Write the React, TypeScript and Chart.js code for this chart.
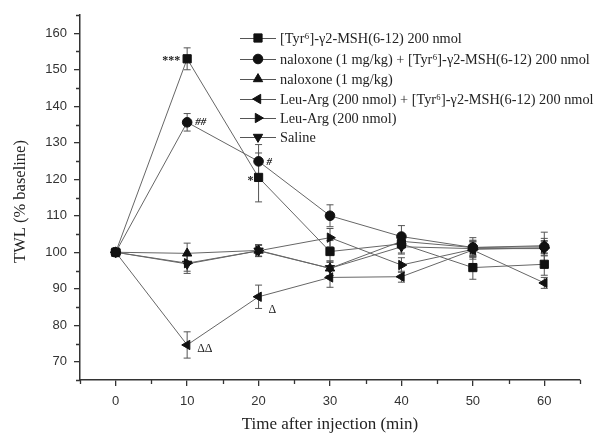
import React, { useEffect, useRef } from "react";
import { Chart, registerables } from "chart.js";
import { drawPoint } from "chart.js/helpers";

Chart.register(...registerables);

const times = [0, 10, 20, 30, 40, 50, 60];
const seriesLabels = [
  "[Tyr\u2076]-\u03b32-MSH(6-12) 200 nmol",
  "naloxone (1 mg/kg) + [Tyr\u2076]-\u03b32-MSH(6-12) 200 nmol",
  "naloxone (1 mg/kg)",
  "Leu-Arg (200 nmol) + [Tyr\u2076]-\u03b32-MSH(6-12) 200 nmol",
  "Leu-Arg (200 nmol)",
  "Saline",
];
const tyrValues = [100, 153, 120.5, 100.2, 102.3, 95.8, 96.7];
const tyrErrors = [0, 3, 6.7, 3, 2.5, 3.2, 3];
const naloxTyrValues = [100, 135.6, 124.9, 110, 104.3, 101.3, 101.5];
const naloxTyrErrors = [0, 2.4, 4.6, 3, 3, 2.7, 4];
const naloxoneValues = [100, 99.7, 100.5, 95.6, 103, 101.3, 101.8];
const naloxoneErrors = [0, 2.8, 1.6, 2, 2, 2, 2];
const leuArgTyrValues = [100, 74.6, 87.8, 93.1, 93.3, 100.6, 91.6];
const leuArgTyrErrors = [0, 3.6, 3.2, 2.7, 1.5, 2.5, 1.5];
const leuArgValues = [100, 97, 100.4, 104, 96.5, 100.8, 101.2];
const leuArgErrors = [0, 2.2, 1.5, 2.5, 2, 2, 2];
const salineValues = [100, 96.8, 100.4, 95.6, 101.5, 101, 101];
const salineErrors = [0, 2.6, 1.6, 2, 2, 2, 2];

const yTicks = [70, 80, 90, 100, 110, 120, 130, 140, 150, 160];
const yMinorTicks = [65, 75, 85, 95, 105, 115, 125, 135, 145, 155, 165];
const xTicks = [0, 10, 20, 30, 40, 50, 60];
const xMinorTicks = [-5, 5, 15, 25, 35, 45, 55, 65];

// annotation: text, series index, point index
const annoTexts = ["***", "##", "#", "*", "\u0394\u0394", "\u0394"];
const annoSeries = [0, 1, 1, 0, 3, 3];
const annoPoints = [1, 1, 2, 2, 1, 2];

const allValues = [tyrValues, naloxTyrValues, naloxoneValues, leuArgTyrValues, leuArgValues, salineValues];
const allErrors = [tyrErrors, naloxTyrErrors, naloxoneErrors, leuArgTyrErrors, leuArgErrors, salineErrors];
const pointStyles = ["rect", "circle", "triangle", "triangle", "triangle", "triangle"];
const pointRotations = [0, 0, 0, -90, 90, 180];
const pointSizes = [5.8, 4.8, 5.4, 5.4, 5.4, 5.4];

const SERIF = "'Liberation Serif', 'Times New Roman', serif";
const SANS = "'Liberation Sans', Arial, sans-serif";

const annoStyle: any[] = [
  { font: `bold 12px ${SERIF}`, align: "right", dx: -7, dy: 2 },
  { font: `italic bold 11px ${SERIF}`, align: "left", dx: 8, dy: 0 },
  { font: `italic bold 11px ${SERIF}`, align: "left", dx: 8, dy: 1 },
  { font: `bold 12px ${SERIF}`, align: "right", dx: -5, dy: 3 },
  { font: `12px ${SERIF}`, align: "left", dx: 10, dy: 4 },
  { font: `12px ${SERIF}`, align: "left", dx: 10, dy: 13 },
];
const legendYs = [38, 59, 79, 99, 118, 137];

const customPlugin = {
  id: "custom",
  beforeDatasetsDraw(chart: any) {
    const ctx = chart.ctx;
    const xs = chart.scales.x;
    const ys = chart.scales.y;
    ctx.save();
    ctx.strokeStyle = "#555";
    ctx.lineWidth = 1;
    allValues.forEach((vals, si) => {
      vals.forEach((v, i) => {
        const e = allErrors[si][i];
        if (!e) return;
        const px = xs.getPixelForValue(times[i]);
        const top = ys.getPixelForValue(v + e);
        const bot = ys.getPixelForValue(v - e);
        ctx.beginPath();
        ctx.moveTo(px, top);
        ctx.lineTo(px, bot);
        ctx.moveTo(px - 3.5, top);
        ctx.lineTo(px + 3.5, top);
        ctx.moveTo(px - 3.5, bot);
        ctx.lineTo(px + 3.5, bot);
        ctx.stroke();
      });
    });
    ctx.restore();
  },
  afterDraw(chart: any) {
    const ctx = chart.ctx;
    const xs = chart.scales.x;
    const ys = chart.scales.y;
    const area = chart.chartArea;
    ctx.save();
    // minor ticks
    ctx.strokeStyle = "#333";
    ctx.lineWidth = 1.3;
    ctx.beginPath();
    yMinorTicks.forEach((v) => {
      const py = Math.round(ys.getPixelForValue(v)) + 0.5;
      ctx.moveTo(area.left - 4, py);
      ctx.lineTo(area.left, py);
    });
    xMinorTicks.forEach((v) => {
      const px = Math.round(xs.getPixelForValue(v)) + 0.5;
      ctx.moveTo(px, area.bottom);
      ctx.lineTo(px, area.bottom + 4);
    });
    ctx.stroke();

    // axis titles
    ctx.fillStyle = "#222";
    ctx.font = `17px ${SERIF}`;
    ctx.textAlign = "center";
    ctx.textBaseline = "middle";
    ctx.fillText("Time after injection (min)", (area.left + area.right) / 2, 425);
    ctx.save();
    ctx.translate(21, (area.top + area.bottom) / 2 + 4);
    ctx.rotate(-Math.PI / 2);
    ctx.font = `16.5px ${SERIF}`;
    ctx.fillText("TWL (% baseline)", 0, 0);
    ctx.restore();

    // annotations
    annoTexts.forEach((t, k) => {
      const si = annoSeries[k];
      const pi = annoPoints[k];
      const px = xs.getPixelForValue(times[pi]);
      const py = ys.getPixelForValue(allValues[si][pi]);
      const st = annoStyle[k];
      ctx.font = st.font;
      ctx.textAlign = st.align;
      ctx.textBaseline = "middle";
      ctx.fillStyle = "#222";
      ctx.fillText(t, px + st.dx, py + st.dy);
    });

    // legend
    seriesLabels.forEach((label, si) => {
      const y = legendYs[si];
      ctx.strokeStyle = "#555";
      ctx.lineWidth = 1;
      ctx.beginPath();
      ctx.moveTo(240, y + 0.5);
      ctx.lineTo(276, y + 0.5);
      ctx.stroke();
      ctx.fillStyle = "#111";
      ctx.strokeStyle = "#111";
      drawPoint(ctx, {
        pointStyle: pointStyles[si],
        radius: pointSizes[si],
        rotation: pointRotations[si],
        borderWidth: 1,
      } as any, 258, y);
      ctx.fillStyle = "#222";
      ctx.font = `14.3px ${SERIF}`;
      ctx.textAlign = "left";
      ctx.textBaseline = "middle";
      ctx.fillText(label, 280, y + 1);
    });
    ctx.restore();
  },
};

export default function App() {
  const ref = useRef<HTMLCanvasElement | null>(null);
  useEffect(() => {
    if (!ref.current) return;
    const datasets = allValues.map((vals, si) => ({
      label: seriesLabels[si],
      data: vals.map((v, i) => ({ x: times[i], y: v })),
      borderColor: "#666",
      borderWidth: 1,
      backgroundColor: "#111",
      pointBackgroundColor: "#111",
      pointBorderColor: "#111",
      pointBorderWidth: 1,
      pointStyle: pointStyles[si],
      pointRotation: pointRotations[si],
      pointRadius: pointSizes[si],
      pointHoverRadius: pointSizes[si],
      tension: 0,
      fill: false,
    }));
    const chart = new Chart(ref.current, {
      type: "line",
      data: { datasets },
      options: {
        animation: false,
        responsive: false,
        devicePixelRatio: 1,
        layout: { padding: { top: 15, right: 19, left: 0, bottom: 0 } },
        plugins: { legend: { display: false }, tooltip: { enabled: false } },
        scales: {
          x: {
            type: "linear",
            min: -5,
            max: 65,
            afterFit: (s: any) => { s.height = 54; },
            afterBuildTicks: (s: any) => { s.ticks = xTicks.map((v) => ({ value: v })); },
            grid: { drawOnChartArea: false, drawTicks: true, tickLength: 6, color: "#333", lineWidth: 1.3 },
            border: { display: true, color: "#333", width: 1.5 },
            ticks: { padding: 8, color: "#333", font: { family: SANS, size: 13 }, maxRotation: 0 },
          },
          y: {
            type: "linear",
            min: 65,
            max: 165,
            afterFit: (s: any) => { s.width = 80; },
            afterBuildTicks: (s: any) => { s.ticks = yTicks.map((v) => ({ value: v })); },
            grid: { drawOnChartArea: false, drawTicks: true, tickLength: 6, color: "#333", lineWidth: 1.3 },
            border: { display: true, color: "#333", width: 1.5 },
            ticks: { padding: 7, color: "#333", font: { family: SANS, size: 13 } },
          },
        },
      },
      plugins: [customPlugin],
    });
    return () => chart.destroy();
  }, []);
  return (
    <div style={{ position: "absolute", left: 0, top: 0, width: 599, height: 434, background: "#fff" }}>
      <canvas ref={ref} width={599} height={434} style={{ width: 599, height: 434 }} />
    </div>
  );
}
